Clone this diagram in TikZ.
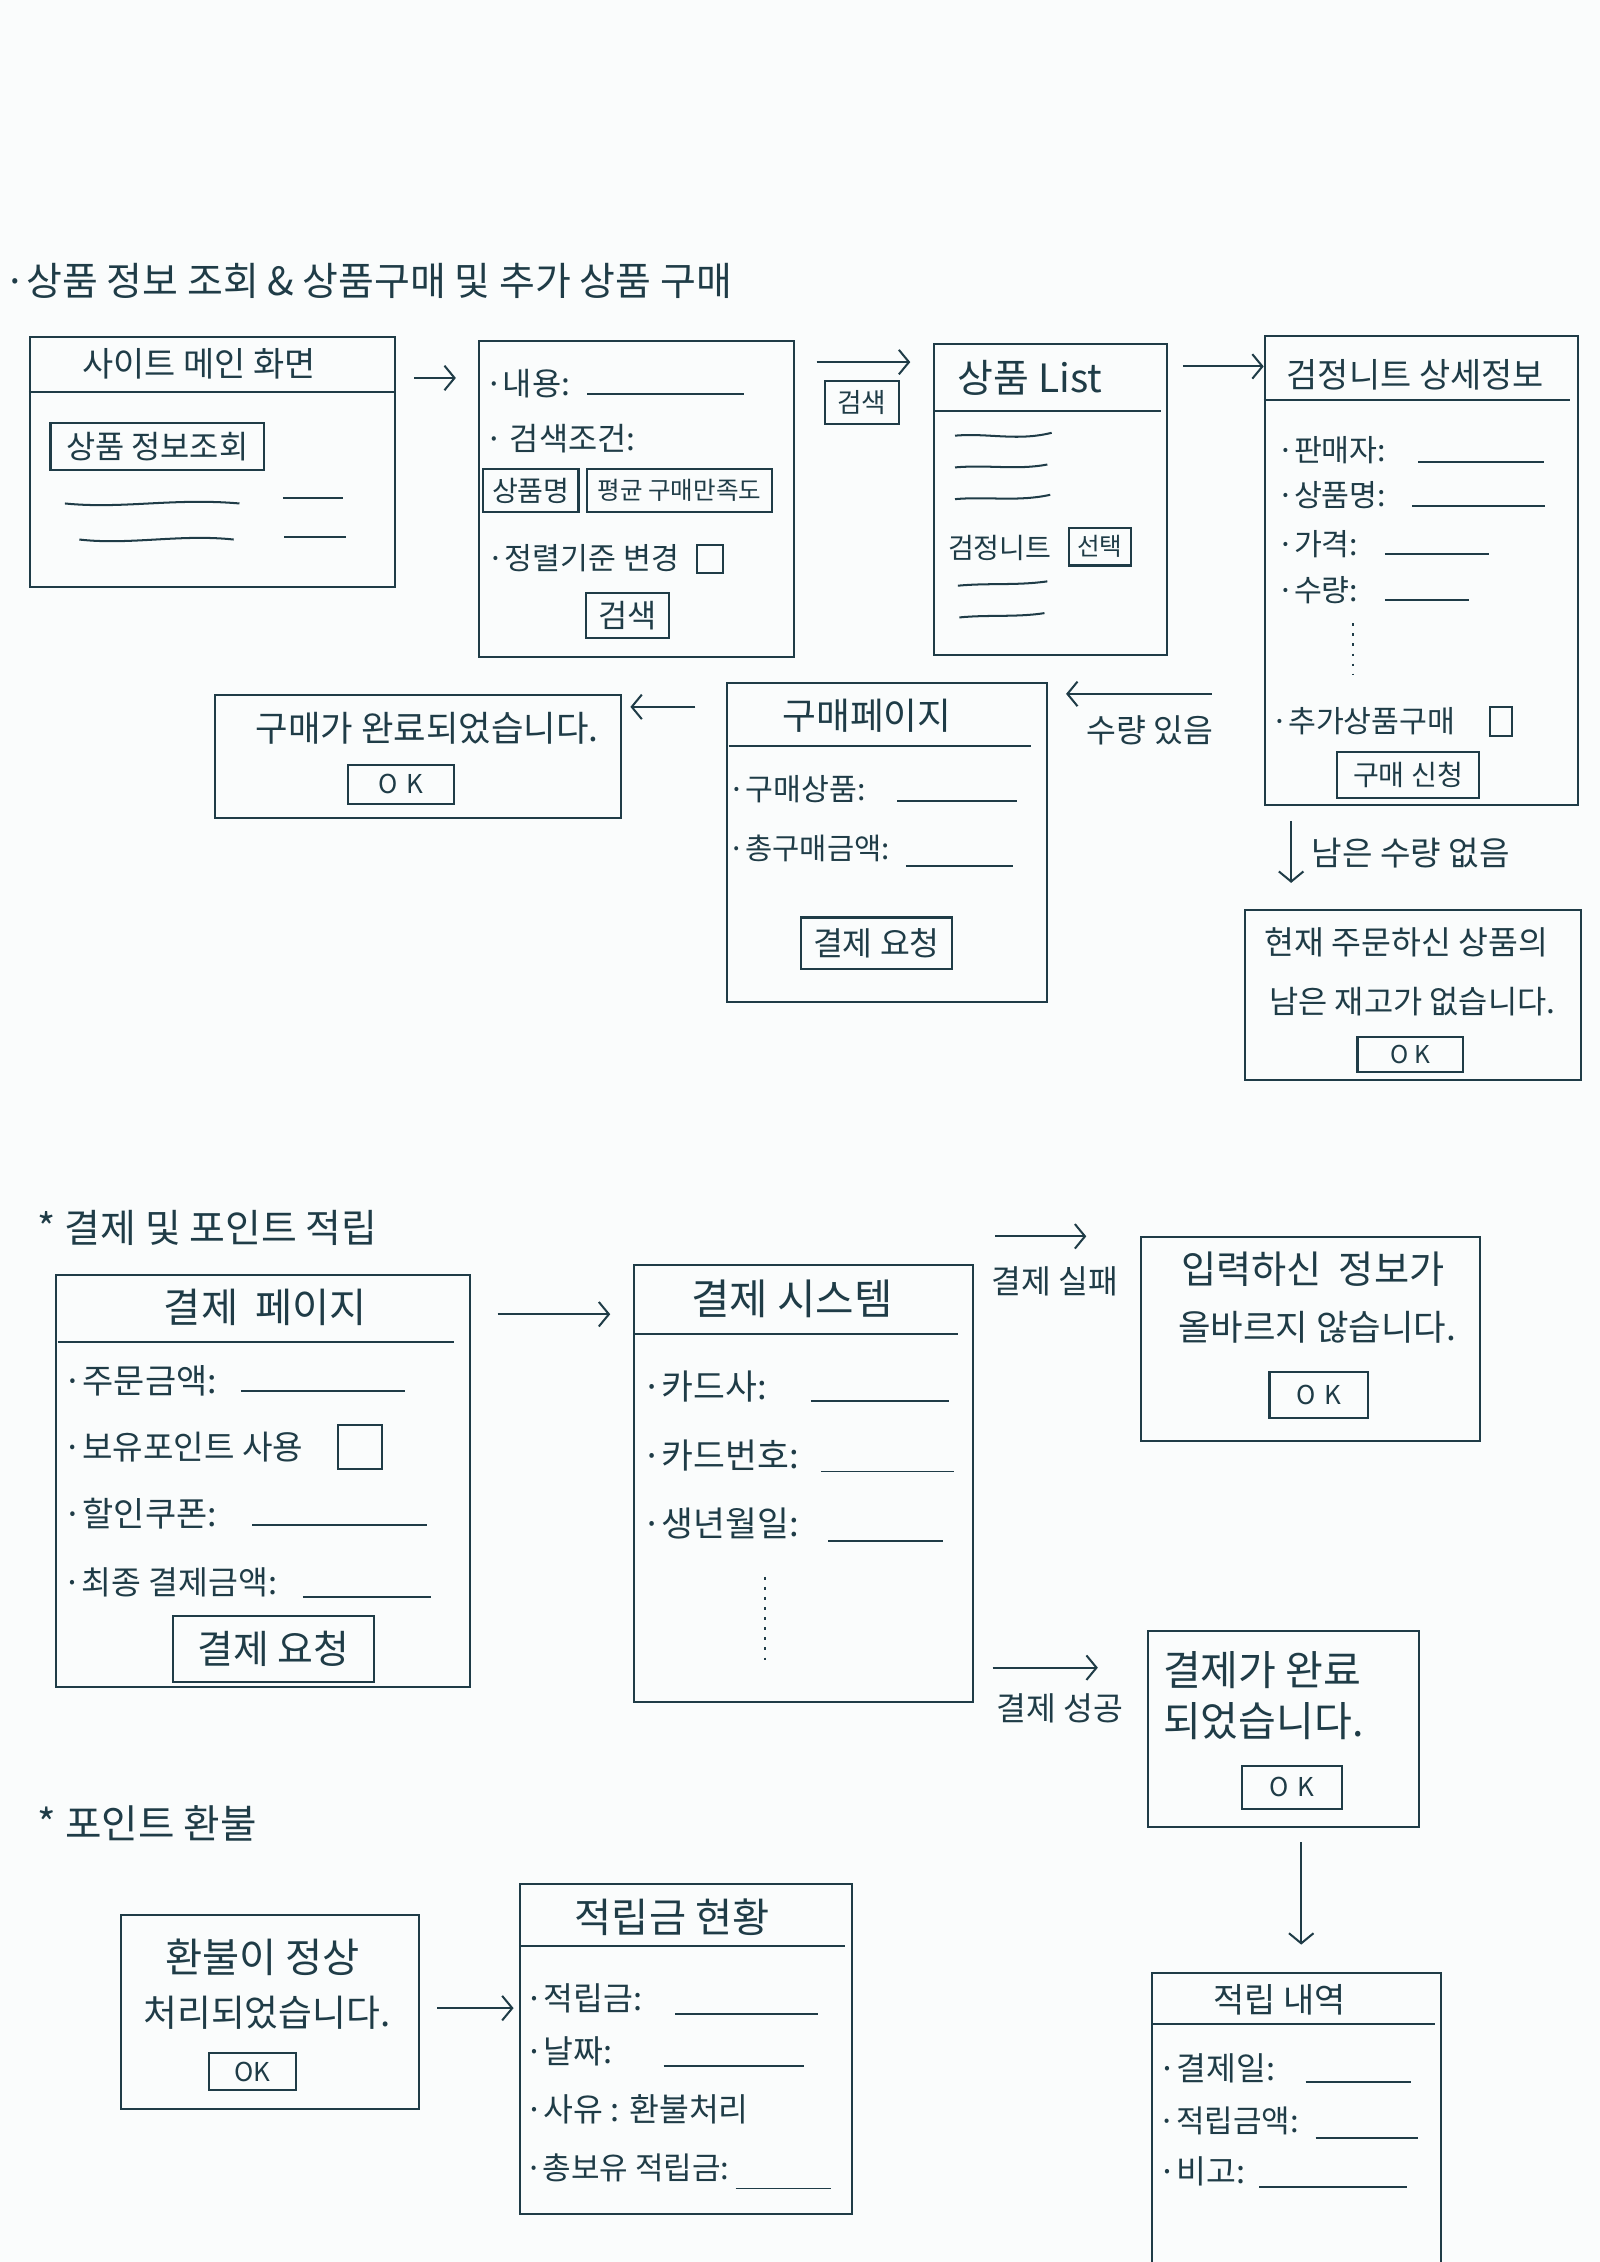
\documentclass[tikz,border=0pt]{standalone}
\usepackage{fontspec}
\setmainfont{Noto Sans CJK KR}
\usetikzlibrary{arrows.meta}
\definecolor{ink}{HTML}{1F3C47}
\definecolor{paper}{HTML}{FAFCFC}
\newcommand\fsz[1]{\fontsize{#1}{#1}\selectfont}
\tikzset{
  inkline/.style={draw=ink, line width=1.4pt},
  frame/.style={inkline, rectangle, anchor=north west, inner sep=0pt},
  btn/.style={inkline, rectangle, inner sep=0pt, text=ink},
  txt/.style={text=ink, inner sep=0pt},
  fld/.style={txt, anchor=west},
  ul/.style={inkline, line width=1.3pt},
  arr/.style={inkline, -{Straight Barb[length=7pt,width=17pt,line width=1.4pt]}},
  dots/.style={inkline, dash pattern=on 2pt off 5pt},
}
\begin{document}
\begin{tikzpicture}[x=1pt,y=-1pt]
\fill[paper] (0,0) rectangle (1109,1568);
\useasboundingbox (0,0) rectangle (1109,1568);

% ===== section 1 =====
\node[txt, anchor=west, font=\fsz{27}] (t1) at (3,195) {·상품 정보 조회 \& 상품구매 및 추가 상품 구매};

% box 1
\node[frame, minimum width=253pt, minimum height=173pt] (b1) at (20,233) {};
\draw[inkline] (20,272) -- (273,272);
\node[txt, font=\fsz{23.5}] (b1t) at (138,252) {사이트 메인 화면};
\node[btn, minimum width=148pt, minimum height=33pt, font=\fsz{22}] (b1b) at (109,309.5) {상품 정보조회};
\draw[inkline] (45,349) .. controls (85,353) and (120,345) .. (166,349);
\draw[inkline] (196,345) -- (238,345);
\draw[inkline] (55,374) .. controls (90,378) and (125,370) .. (162,374);
\draw[inkline] (197,372) -- (240,372);

% arrow 1->2
\coordinate (a1s) at (287,262); \coordinate (a1e) at (316,262);
\draw[arr] (a1s) -- (a1e);

% box 2
\node[frame, minimum width=219pt, minimum height=219pt] (b2) at (331,236) {};
\node[fld, font=\fsz{22}] (b2f1) at (336,266) {·내용:};
\draw[ul] (407,273) -- (516,273);
\node[fld, font=\fsz{22}] (b2f2) at (336,304) {· 검색조건:};
\node[btn, minimum width=66pt, minimum height=30pt, font=\fsz{19.5}] (b2c1) at (368,340) {상품명};
\node[btn, minimum width=128pt, minimum height=30pt, font=\fsz{17}] (b2c2) at (471,340) {평균 구매만족도};
\node[fld, font=\fsz{21}] (b2f3) at (338,387) {·정렬기준 변경};
\draw[inkline] (483,378) rectangle (501,397);
\node[btn, minimum width=58pt, minimum height=31pt, font=\fsz{22}] (b2b) at (435,426.5) {검색};

% arrow 2->3 with button
\coordinate (a2s) at (566,251); \coordinate (a2e) at (631,251);
\draw[arr] (a2s) -- (a2e);
\node[btn, minimum width=51pt, minimum height=30pt, font=\fsz{18.5}] (a2b) at (597.5,279) {검색};

% box 3
\node[frame, minimum width=161pt, minimum height=215pt] (b3) at (647,238) {};
\draw[inkline] (647,285) -- (805,285);
\node[txt, font=\fsz{27}] (b3t) at (714,262) {상품 List};
\draw[inkline] (662,302) .. controls (685,300) and (705,306) .. (729,300);
\draw[inkline] (662,324) .. controls (685,322) and (705,326) .. (726,322);
\draw[inkline] (662,346) .. controls (685,344) and (705,348) .. (728,343);
\node[fld, font=\fsz{19.5}] (b3i) at (657,380) {검정니트};
\node[btn, minimum width=43pt, minimum height=26pt, font=\fsz{17}] (b3s) at (762.5,379) {선택};
\draw[inkline] (664,406) .. controls (685,404) and (705,406) .. (726,403);
\draw[inkline] (665,428) .. controls (685,426) and (705,428) .. (724,425);

% arrow 3->4
\coordinate (a3s) at (820,254); \coordinate (a3e) at (876,254);
\draw[arr] (a3s) -- (a3e);

% box 4
\node[frame, minimum width=217pt, minimum height=325pt] (b4) at (876,232) {};
\draw[inkline] (876,277) -- (1088,277);
\node[txt, font=\fsz{23.5}] (b4t) at (981,260) {검정니트 상세정보};
\node[fld, font=\fsz{21}] (b4f1) at (885,312) {·판매자:};
\draw[ul] (983,320) -- (1070,320);
\node[fld, font=\fsz{21}] (b4f2) at (885,343) {·상품명:};
\draw[ul] (979,351) -- (1071,351);
\node[fld, font=\fsz{21}] (b4f3) at (885,377) {·가격:};
\draw[ul] (960,384) -- (1032,384);
\node[fld, font=\fsz{21}] (b4f4) at (885,409) {·수량:};
\draw[ul] (960,416) -- (1018,416);
\draw[dots] (938,432) -- (938,468);
\node[fld, font=\fsz{21}] (b4f5) at (881,500) {·추가상품구매};
\draw[inkline] (1033,490) rectangle (1048,510);
\node[btn, minimum width=98pt, minimum height=32pt, font=\fsz{19.5}] (b4b) at (976,537) {구매 신청};

% arrow 4->5 (수량 있음)
\coordinate (a4s) at (840,481); \coordinate (a4e) at (739,481);
\draw[arr] (a4s) -- (a4e);
\node[txt, font=\fsz{22.5}] (a4l) at (797,506) {수량 있음};

% box 5
\node[frame, minimum width=222pt, minimum height=221pt] (b5) at (503,473) {};
\draw[inkline] (505,517) -- (715,517);
\node[txt, font=\fsz{25.5}] (b5t) at (601,496) {구매페이지};
\node[fld, font=\fsz{21}] (b5f1) at (505,547) {·구매상품:};
\draw[ul] (622,555) -- (705,555);
\node[fld, font=\fsz{20.5}] (b5f2) at (505,588) {·총구매금액:};
\draw[ul] (628,600) -- (702,600);
\node[btn, minimum width=105pt, minimum height=36pt, font=\fsz{22.5}] (b5b) at (607.5,654) {결제 요청};

% arrow 5->6
\coordinate (a5s) at (482,490); \coordinate (a5e) at (437,490);
\draw[arr] (a5s) -- (a5e);

% box 6
\node[frame, minimum width=282pt, minimum height=85pt] (b6) at (148,481) {};
\node[txt, font=\fsz{24.5}] (b6t) at (296,505) {구매가 완료되었습니다.};
\node[btn, minimum width=74pt, minimum height=27pt, font=\fsz{18}] (b6b) at (278,543.5) {O\hspace{6pt}K};

% arrow 4->7 (남은 수량 없음)
\coordinate (a6s) at (895,569); \coordinate (a6e) at (895,612);
\draw[arr] (a6s) -- (a6e);
\node[txt, anchor=west, font=\fsz{23}] (a6l) at (909,591) {남은 수량 없음};

% box 7
\node[frame, minimum width=233pt, minimum height=118pt] (b7) at (862,630) {};
\node[txt, font=\fsz{22.5}] (b7t1) at (975,653) {현재 주문하신 상품의};
\node[txt, font=\fsz{22}] (b7t2) at (979,694) {남은 재고가 없습니다.};
\node[btn, minimum width=73pt, minimum height=24pt, font=\fsz{17}] (b7b) at (977.5,731) {O\hspace{4pt}K};

% ===== section 2 =====
\node[txt, anchor=west, font=\fsz{27}] (t2) at (26,851) {* 결제 및 포인트 적립};

% box 8
\node[frame, minimum width=287pt, minimum height=286pt] (b8) at (38,883) {};
\draw[inkline] (40,930) -- (315,930);
\node[txt, font=\fsz{28}] (b8t) at (184,906) {결제\hspace{12pt}페이지};
\node[fld, font=\fsz{23.5}] (b8f1) at (44,957) {·주문금액:};
\draw[ul] (167,964) -- (281,964);
\node[fld, font=\fsz{23}] (b8f2) at (44,1003) {·보유포인트 사용};
\draw[inkline] (234,988) rectangle (265,1018);
\node[fld, font=\fsz{23.5}] (b8f3) at (44,1049) {·할인쿠폰:};
\draw[ul] (175,1057) -- (296,1057);
\node[fld, font=\fsz{22.5}] (b8f4) at (44,1097) {·최종 결제금액:};
\draw[ul] (210,1107) -- (299,1107);
\node[btn, minimum width=139pt, minimum height=46pt, font=\fsz{27}] (b8b) at (189.5,1143) {결제 요청};

% arrow 8->9
\coordinate (a7s) at (345,911); \coordinate (a7e) at (423,911);
\draw[arr] (a7s) -- (a7e);

% box 9
\node[frame, minimum width=235pt, minimum height=303pt] (b9) at (439,876) {};
\draw[inkline] (439,925) -- (664,925);
\node[txt, font=\fsz{29}] (b9t) at (549,900) {결제 시스템};
\node[fld, font=\fsz{24}] (b9f1) at (445,961) {·카드사:};
\draw[ul] (562,971) -- (658,971);
\node[fld, font=\fsz{24}] (b9f2) at (445,1009) {·카드번호:};
\draw[ul] (569,1020) -- (661,1020);
\node[fld, font=\fsz{24}] (b9f3) at (445,1056) {·생년월일:};
\draw[ul] (574,1068) -- (654,1068);
\draw[dots] (530,1093) -- (530,1152);

% arrow 9->10 (결제 실패)
\coordinate (a8s) at (690,857); \coordinate (a8e) at (753,857);
\draw[arr] (a8s) -- (a8e);
\node[txt, font=\fsz{22.5}] (a8l) at (731,888) {결제 실패};

% box 10
\node[frame, minimum width=235pt, minimum height=141pt] (b10) at (790,857) {};
\node[txt, font=\fsz{26.5}] (b10t1) at (910,880) {입력하신\hspace{6pt} 정보가};
\node[txt, font=\fsz{24.5}] (b10t2) at (913,920) {올바르지 않습니다.};
\node[btn, minimum width=68pt, minimum height=32pt, font=\fsz{18}] (b10b) at (914,967) {O\hspace{6pt}K};

% arrow 9->11 (결제 성공)
\coordinate (a9s) at (688,1156); \coordinate (a9e) at (761,1156);
\draw[arr] (a9s) -- (a9e);
\node[txt, font=\fsz{22.5}] (a9l) at (735,1184) {결제 성공};

% box 11
\node[frame, minimum width=188pt, minimum height=136pt] (b11) at (795,1130) {};
\node[txt, anchor=west, font=\fsz{28.5}] (b11t1) at (806,1158) {결제가 완료};
\node[txt, anchor=west, font=\fsz{28.5}] (b11t2) at (806,1193) {되었습니다.};
\node[btn, minimum width=69pt, minimum height=30pt, font=\fsz{18}] (b11b) at (895.5,1239) {O\hspace{6pt}K};

% arrow 11->12
\coordinate (a10s) at (902,1277); \coordinate (a10e) at (902,1348);
\draw[arr] (a10s) -- (a10e);

% box 12
\node[frame, minimum width=200pt, minimum height=201pt] (b12) at (798,1367) {};
\draw[inkline] (798,1403) -- (995,1403);
\node[txt, font=\fsz{23.5}] (b12t) at (887,1386) {적립 내역};
\node[fld, font=\fsz{22.5}] (b12f1) at (803,1434) {·결제일:};
\draw[ul] (905,1443) -- (978,1443);
\node[fld, font=\fsz{21.5}] (b12f2) at (803,1470) {·적립금액:};
\draw[ul] (912,1482) -- (983,1482);
\node[fld, font=\fsz{22.5}] (b12f3) at (803,1505) {·비고:};
\draw[ul] (873,1516) -- (975,1516);

% ===== section 3 =====
\node[txt, anchor=west, font=\fsz{27.5}] (t3) at (26,1264) {* 포인트 환불};

% box 13
\node[frame, minimum width=207pt, minimum height=134pt] (b13) at (83,1327) {};
\node[txt, font=\fsz{28}] (b13t1) at (182,1357) {환불이 정상};
\node[txt, font=\fsz{25.5}] (b13t2) at (185,1395) {처리되었습니다.};
\node[btn, minimum width=60pt, minimum height=26pt, font=\fsz{18}] (b13b) at (175,1436) {OK};

% arrow 13->14
\coordinate (a11s) at (303,1392); \coordinate (a11e) at (356,1392);
\draw[arr] (a11s) -- (a11e);

% box 14
\node[frame, minimum width=230pt, minimum height=229pt] (b14) at (360,1305) {};
\draw[inkline] (360,1349) -- (586,1349);
\node[txt, font=\fsz{28}] (b14t) at (466,1329) {적립금 현황};
\node[fld, font=\fsz{22.5}] (b14f1) at (364,1385) {·적립금:};
\draw[ul] (468,1396) -- (567,1396);
\node[fld, font=\fsz{22.5}] (b14f2) at (364,1422) {·날짜:};
\draw[ul] (460,1432) -- (557,1432);
\node[fld, font=\fsz{22.5}] (b14f3) at (364,1462) {·사유 : 환불처리};
\node[fld, font=\fsz{21.5}] (b14f4) at (364,1503) {·총보유 적립금:};
\draw[ul] (510,1517) -- (576,1517);
\end{tikzpicture}
\end{document}
